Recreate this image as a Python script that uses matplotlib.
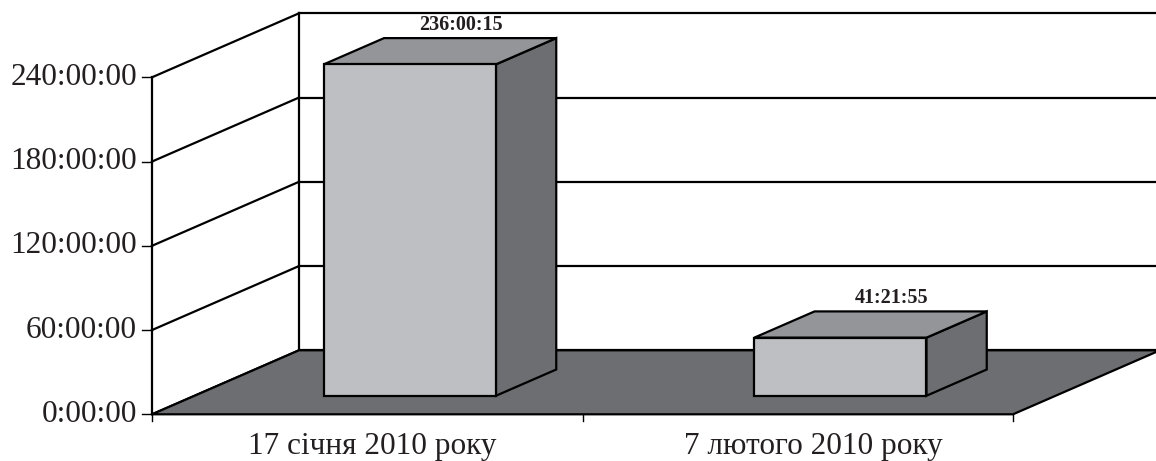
import matplotlib

matplotlib.use("Agg")
import matplotlib.pyplot as plt
from matplotlib.patches import Polygon

plt.rcParams["font.family"] = ["Liberation Serif", "DejaVu Serif"]

categories = ["17 січня 2010 року", "7 лютого 2010 року"]
durations = ["236:00:15", "41:21:55"]
y_ticks = [0, 60, 120, 180, 240]
y_tick_labels = ["0:00:00", "60:00:00", "120:00:00", "180:00:00", "240:00:00"]


def to_hours(s):
    h, m, sec = (int(p) for p in s.split(":"))
    return h + m / 60 + sec / 3600


values = [to_hours(d) for d in durations]

# oblique projection: category units, depth 0..1, value in hours -> pixels
X0, Y0 = 152, 414.3
CAT_W = 430.5
DEPTH_DX, DEPTH_DY = 147, -64
PX_PER_H = 337 / 240
Y_MAX = 240
X_END = 1160
LABEL_SHIFT = (5, 16)


def proj(x, d, v):
    return (X0 + x * CAT_W + d * DEPTH_DX, Y0 - v * PX_PER_H + d * DEPTH_DY)


FRONT = "#bebfc3"
TOP = "#939598"
SIDE = "#6d6e72"
FLOOR = "#6d6e72"
LW = 1.6

fig = plt.figure(figsize=(11.56, 4.61), dpi=100)
ax = fig.add_axes([0, 0, 1, 1])
ax.set_xlim(0, 1156)
ax.set_ylim(461, 0)
ax.axis("off")

n = len(categories)

# side wall gridlines and back wall gridlines
for t, lab in zip(y_ticks, y_tick_labels):
    ax.plot(*zip(proj(0, 0, t), proj(0, 1, t)), color="black", lw=LW, zorder=2)
    bx, by = proj(0, 1, t)
    ax.plot([bx, X_END], [by, by], color="black", lw=LW, zorder=2)
    # tick mark and label on the front axis
    fx, fy = proj(0, 0, t)
    ax.plot([fx - 10, fx], [fy, fy], color="black", lw=1.0, zorder=2)
    ax.text(fx - 15, fy, lab, ha="right", va="center", fontsize=22.5, color="#231f20")

# vertical edges of walls
ax.plot(*zip(proj(0, 0, 0), proj(0, 0, Y_MAX)), color="black", lw=LW, zorder=2)
ax.plot(*zip(proj(0, 1, 0), proj(0, 1, Y_MAX)), color="black", lw=LW, zorder=2)

# floor
floor = [proj(0, 0, 0), proj(0, 1, 0), (X_END, proj(0, 1, 0)[1]), proj(n, 0, 0)]
ax.add_patch(Polygon(floor, closed=True, facecolor=FLOOR, edgecolor="black", lw=LW, zorder=3))

# category ticks
for i in range(n + 1):
    tx, ty = proj(i, 0, 0)
    ax.plot([tx, tx], [ty, ty + 7], color="black", lw=1.0, zorder=3)

# bars
b0, b1 = 0.3, 0.7
d0, d1 = 0.29, 0.70
for i, v in enumerate(values):
    xl, xr = i + b0, i + b1
    front = [proj(xl, d0, 0), proj(xr, d0, 0), proj(xr, d0, v), proj(xl, d0, v)]
    top = [proj(xl, d0, v), proj(xr, d0, v), proj(xr, d1, v), proj(xl, d1, v)]
    side = [proj(xr, d0, 0), proj(xr, d1, 0), proj(xr, d1, v), proj(xr, d0, v)]
    for pts, col in ((side, SIDE), (top, TOP), (front, FRONT)):
        ax.add_patch(Polygon(pts, closed=True, facecolor=col, edgecolor="black",
                             lw=LW, joinstyle="miter", zorder=4))
    lx, ly = proj(i + 0.5, 0.635, v)
    ax.text(lx, ly - 17.5, durations[i], ha="center", va="center",
            fontsize=14.5, fontweight="bold", color="#231f20", zorder=5)

    cx, _ = proj(i + 0.5, 0, 0)
    ax.text(cx + LABEL_SHIFT[i], 446, categories[i], ha="center", va="center",
            fontsize=22.5, color="#231f20")

fig.savefig("out.png", dpi=100)
